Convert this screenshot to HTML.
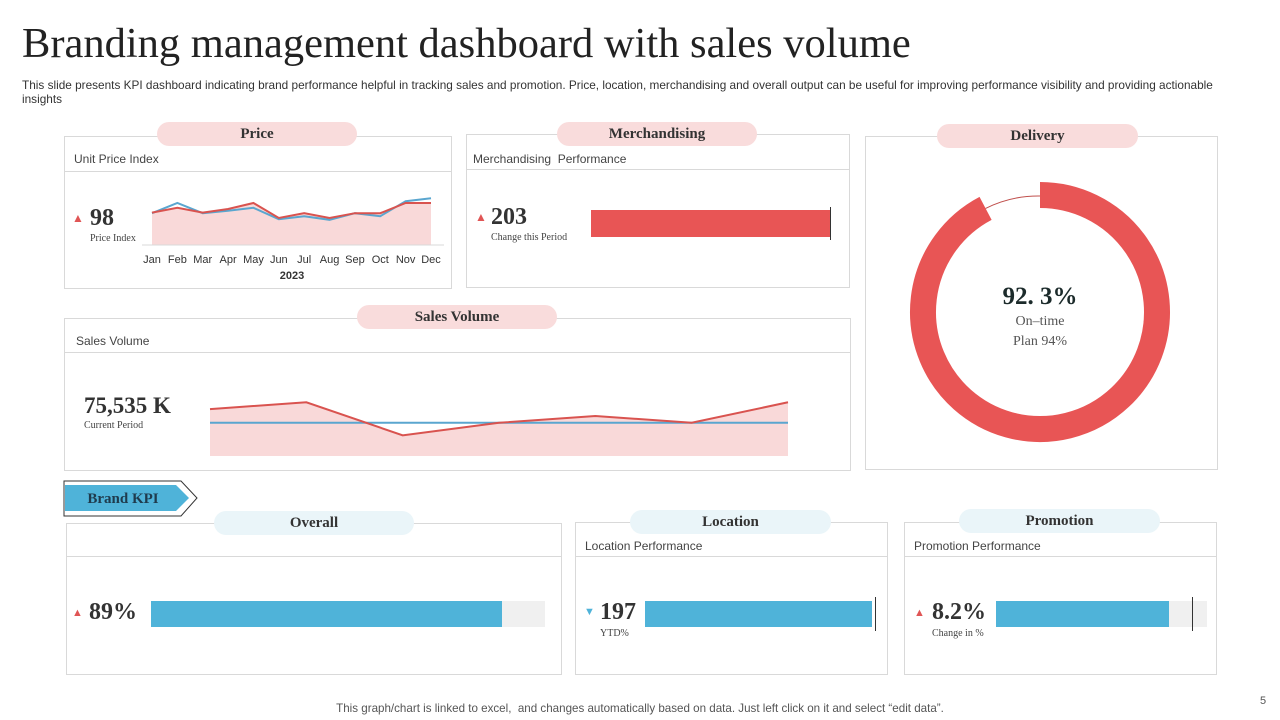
<!DOCTYPE html>
<html><head><meta charset="utf-8">
<style>
body{margin:0;width:1280px;height:720px;background:#fff;font-family:"Liberation Sans",sans-serif;position:relative;overflow:hidden}
.abs{position:absolute}
.box{position:absolute;border:1px solid #d9d9d9;background:#fff}
.pill{position:absolute;height:24px;border-radius:12px;font-family:"Liberation Serif",serif;font-weight:bold;font-size:15px;color:#333;text-align:center;line-height:24px}
.pink{background:#f9dcdc}.pale{background:#eaf5f9}
.sub{position:absolute;font-size:12px;color:#444}
.hl{position:absolute;height:1px;background:#d9d9d9}
.big{position:absolute;font-family:"Liberation Serif",serif;font-weight:bold;color:#333}
.small{position:absolute;font-family:"Liberation Serif",serif;font-size:10px;color:#444}
.arr{position:absolute;width:0;height:0}
</style></head><body>
<div class="abs" style="left:22px;top:19px;font-family:'Liberation Serif',serif;font-size:42.5px;color:#222">Branding management dashboard with sales volume</div>
<div class="abs" style="left:22px;top:78px;width:1225px;font-size:11.8px;line-height:14px;color:#333">This slide presents KPI dashboard indicating brand performance helpful in tracking sales and promotion. Price, location, merchandising and overall output can be useful for improving performance visibility and providing actionable insights</div>

<!-- Price -->
<div class="box" style="left:64px;top:136px;width:386px;height:151px"></div>
<div class="hl" style="left:65px;top:171px;width:386px"></div>
<div class="pill pink" style="left:157px;top:122px;width:200px">Price</div>
<div class="sub" style="left:74px;top:152px">Unit Price Index</div>
<svg class="abs" style="left:0;top:0" width="1280" height="720" id="pc"></svg>
<div class="abs" style="left:72px;top:211px;color:#e05555;font-size:12px">&#9650;</div>
<div class="big" style="left:90px;top:205px;font-size:24px">98</div>
<div class="small" style="left:90px;top:233px">Price Index</div>

<!-- Merch -->
<div class="box" style="left:466px;top:134px;width:382px;height:152px"></div>
<div class="hl" style="left:467px;top:169px;width:382px"></div>
<div class="pill pink" style="left:557px;top:122px;width:200px">Merchandising</div>
<div class="sub" style="left:473px;top:152px">Merchandising&nbsp; Performance</div>
<div class="abs" style="left:475px;top:210px;color:#e05555;font-size:12px">&#9650;</div>
<div class="big" style="left:491px;top:204px;font-size:24px">203</div>
<div class="small" style="left:491px;top:232px">Change this Period</div>
<div class="abs" style="left:591px;top:210px;width:240px;height:27px;background:#e85555"></div>
<div class="abs" style="left:830px;top:207px;width:1px;height:33px;background:#333"></div>

<!-- Delivery -->
<div class="box" style="left:865px;top:136px;width:351px;height:332px"></div>
<div class="pill pink" style="left:937px;top:124px;width:201px">Delivery</div>
<svg class="abs" style="left:0;top:0" width="1280" height="720" id="dn"></svg>
<div class="big" style="left:940px;top:283px;width:200px;text-align:center;font-size:25px;color:#1c2b2b">92. 3%</div>
<div class="abs" style="left:940px;top:312px;width:200px;text-align:center;font-family:'Liberation Serif',serif;font-size:14px;color:#555;line-height:20px">On–time<br>Plan 94%</div>

<!-- Sales Volume -->
<div class="box" style="left:64px;top:318px;width:785px;height:151px"></div>
<div class="hl" style="left:65px;top:352px;width:785px"></div>
<div class="pill pink" style="left:357px;top:305px;width:200px">Sales Volume</div>
<div class="sub" style="left:76px;top:334px">Sales Volume</div>
<div class="big" style="left:84px;top:393px;font-size:23px">75,535 K</div>
<div class="small" style="left:84px;top:420px">Current Period</div>
<svg class="abs" style="left:0;top:0" width="1280" height="720" id="sv"></svg>

<!-- Brand KPI -->
<svg class="abs" style="left:63px;top:480px" width="136" height="38">
<polygon points="1,1 118,1 134,18 118,36 1,36" fill="#fff" stroke="#333"/>
<polygon points="2,5 113,5 126,18 113,31 2,31" fill="#4fb3d9"/>
<text x="60" y="23" text-anchor="middle" font-family="Liberation Serif" font-weight="bold" font-size="15" fill="#1f3b4d">Brand KPI</text>
</svg>

<div class="box" style="left:66px;top:523px;width:494px;height:150px"></div>
<div class="hl" style="left:67px;top:556px;width:494px"></div>
<div class="pill pale" style="left:214px;top:511px;width:200px">Overall</div>
<div class="abs" style="left:72px;top:607px;color:#e05555;font-size:11px">&#9650;</div>
<div class="big" style="left:89px;top:599px;font-size:24px">89%</div>
<div class="abs" style="left:151px;top:601px;width:394px;height:26px;background:#f0f0f0"></div>
<div class="abs" style="left:151px;top:601px;width:351px;height:26px;background:#4fb3d9"></div>

<div class="box" style="left:575px;top:522px;width:311px;height:151px"></div>
<div class="hl" style="left:576px;top:556px;width:311px"></div>
<div class="pill pale" style="left:630px;top:510px;width:201px">Location</div>
<div class="sub" style="left:585px;top:539px">Location Performance</div>
<div class="abs" style="left:584px;top:606px;color:#4fb3d9;font-size:11px">&#9660;</div>
<div class="big" style="left:600px;top:599px;font-size:24px">197</div>
<div class="small" style="left:600px;top:628px">YTD%</div>
<div class="abs" style="left:645px;top:601px;width:227px;height:26px;background:#4fb3d9"></div>
<div class="abs" style="left:875px;top:597px;width:1px;height:34px;background:#333"></div>

<div class="box" style="left:904px;top:522px;width:311px;height:151px"></div>
<div class="hl" style="left:905px;top:556px;width:311px"></div>
<div class="pill pale" style="left:959px;top:509px;width:201px">Promotion</div>
<div class="sub" style="left:914px;top:539px">Promotion Performance</div>
<div class="abs" style="left:914px;top:607px;color:#e05555;font-size:11px">&#9650;</div>
<div class="big" style="left:932px;top:599px;font-size:24px">8.2%</div>
<div class="small" style="left:932px;top:628px">Change in %</div>
<div class="abs" style="left:996px;top:601px;width:211px;height:26px;background:#f0f0f0"></div>
<div class="abs" style="left:996px;top:601px;width:173px;height:26px;background:#4fb3d9"></div>
<div class="abs" style="left:1192px;top:597px;width:1px;height:34px;background:#333"></div>

<div class="abs" style="left:0;top:702px;width:1280px;text-align:center;font-size:11.6px;color:#555">This graph/chart is linked to excel,&nbsp; and changes automatically based on data. Just left click on it and select “edit data”.</div>
<div class="abs" style="left:1260px;top:695px;font-size:11px;color:#555">5</div>

<script>
const months=["Jan","Feb","Mar","Apr","May","Jun","Jul","Aug","Sep","Oct","Nov","Dec"];
const priceRed=[54,62,54,60,70,45,53,45,53,53,70,70];
const priceBlue=[53,70,53,57,62,43,48,42,53,48,73,78];
const yearLabel="2023";
const salesVals=[60,72,14,36,48,36,72];
const salesTarget=36;
const deliveryPct=92.3;
const NS="http://www.w3.org/2000/svg";
function mk(p,t,a){const e=document.createElementNS(NS,t);for(const k in a)e.setAttribute(k,a[k]);p.appendChild(e);return e;}
// price
const pc=document.getElementById('pc');
const px=i=>152+i*(431-152)/(months.length-1);
const py=v=>245-v*0.6;
let area=`M${px(0)},245 `+priceRed.map((v,i)=>`L${px(i)},${py(v)}`).join(' ')+` L${px(11)},245Z`;
let a=mk(pc,'path',{d:area,fill:'#f9d9d9'});


mk(pc,'line',{x1:142,y1:245,x2:444,y2:245,stroke:'#d9d9d9'});
let lb=mk(pc,'polyline',{points:priceBlue.map((v,i)=>px(i)+','+py(v)).join(' '),fill:'none',stroke:'#5aa6cf','stroke-width':2});


let lr=mk(pc,'polyline',{points:priceRed.map((v,i)=>px(i)+','+py(v)).join(' '),fill:'none',stroke:'#d9534f','stroke-width':2});


months.forEach((m,i)=>{const t=mk(pc,'text',{x:px(i),y:263,'text-anchor':'middle','font-size':11,fill:'#333','font-family':'Liberation Sans'});t.textContent=m;

});
const yt=mk(pc,'text',{x:292,y:279,'text-anchor':'middle','font-size':11,'font-weight':'bold',fill:'#333','font-family':'Liberation Sans'});yt.textContent=yearLabel;


// sales
const sv=document.getElementById('sv');
const sx=i=>210+i*(788-210)/(salesVals.length-1);
const sy2=v=>443.3-v*0.57;
let sa=`M${sx(0)},456 `+salesVals.map((v,i)=>`L${sx(i)},${sy2(v)}`).join(' ')+` L${sx(salesVals.length-1)},456Z`;
let s1=mk(sv,'path',{d:sa,fill:'#f9d9d9'});


let s2=mk(sv,'line',{x1:sx(0),x2:sx(salesVals.length-1),y1:sy2(salesTarget),y2:sy2(salesTarget),stroke:'#5aa6cf','stroke-width':2});


let s3=mk(sv,'polyline',{points:salesVals.map((v,i)=>sx(i)+','+sy2(v)).join(' '),fill:'none',stroke:'#d9534f','stroke-width':2});


// donut
const dn=document.getElementById('dn');
const cx=1040,cy=312,r=117;
const ang=deliveryPct/100*2*Math.PI;
const ex=cx+r*Math.sin(ang),ey=cy-r*Math.cos(ang);
mk(dn,'path',{d:`M${ex},${ey} A${r+1},${r+1} 0 0 1 ${cx},${cy-r+1}`,fill:'none',stroke:'#c0504d','stroke-width':1});
let d=mk(dn,'path',{d:`M${cx},${cy-r} A${r},${r} 0 ${ang>Math.PI?1:0} 1 ${ex},${ey}`,fill:'none',stroke:'#e85555','stroke-width':26});


</script>
</body></html>
